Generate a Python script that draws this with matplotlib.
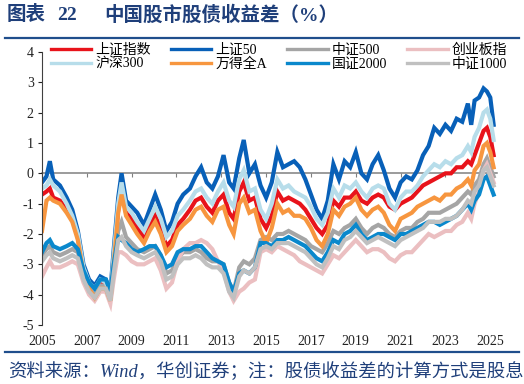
import matplotlib
matplotlib.use("Agg")
import matplotlib.pyplot as plt
from matplotlib.lines import Line2D

plt.rcParams['font.family'] = ['Liberation Serif', 'Noto Sans CJK SC', 'DejaVu Sans']
plt.rcParams['axes.unicode_minus'] = False

# time in decimal years
t = [2005.0, 2005.2, 2005.35, 2005.5, 2005.8, 2006.1, 2006.35, 2006.6, 2006.85, 2007.1,
     2007.35, 2007.6, 2007.85, 2008.05, 2008.2, 2008.4, 2008.55, 2008.75, 2009.0, 2009.25,
     2009.55, 2009.8, 2010.05, 2010.3, 2010.55, 2010.8, 2011.05, 2011.3, 2011.6, 2011.85,
     2012.1, 2012.35, 2012.6, 2012.85, 2013.1, 2013.35, 2013.55, 2013.8, 2014.0, 2014.25,
     2014.5, 2014.75, 2015.0, 2015.25, 2015.5, 2015.75, 2016.0, 2016.25, 2016.5, 2016.75,
     2017.0, 2017.25, 2017.5, 2017.75, 2018.0, 2018.25, 2018.5, 2018.75, 2019.0, 2019.25,
     2019.5, 2019.75, 2020.0, 2020.25, 2020.5, 2020.75, 2021.0, 2021.25, 2021.5, 2021.75,
     2022.0, 2022.25, 2022.5, 2022.75, 2023.0, 2023.25, 2023.5, 2023.75, 2024.0, 2024.15,
     2024.3, 2024.5, 2024.7, 2024.85, 2025.0, 2025.15]

sz50 = [-0.3, -0.1, 0.4, -0.2, -0.4, -0.8, -1.2, -1.9, -3.0, -3.5,
        -3.7, -3.4, -3.5, -3.9, -2.5, -0.8, 0.0, -0.9, -1.1, -1.3,
        -1.7, -1.2, -0.7, -1.2, -1.9, -1.6, -1.0, -0.7, -0.5, -0.1,
        0.2, -0.3, -0.5, -0.1, 0.6, -0.3, -0.5, 0.5, 1.1, 0.0,
        0.3, -0.4, -0.8, -0.3, 0.7, 0.2, 0.3, 0.4, 0.2, -0.2,
        -0.7, -1.2, -1.5, -0.9, 0.3, -0.2, 0.4, 0.2, 0.7, 0.0,
        -0.2, 0.3, 0.6, 0.1, -0.5, -0.8, -0.3, -0.1, -0.2, 0.1,
        0.6, 0.9, 1.5, 1.3, 1.6, 1.4, 1.8, 1.7, 2.3, 1.6,
        2.4, 2.5, 2.8, 2.7, 2.5, 1.6]
hs300 = [-0.5, -0.4, -0.2, -0.4, -0.6, -1.0, -1.4, -2.0, -3.1, -3.6,
         -3.8, -3.5, -3.6, -4.0, -2.7, -1.0, -0.3, -1.1, -1.3, -1.6,
         -1.9, -1.5, -1.1, -1.5, -2.1, -1.9, -1.4, -1.2, -0.9, -0.6,
         -0.5, -0.8, -1.0, -0.6, -0.3, -0.9, -1.1, -0.2, 0.1, -0.6,
         -0.5, -1.2, -1.5, -1.0, -0.2, -0.5, -0.4, -0.6, -0.7, -0.8,
         -1.1, -1.5, -1.7, -1.3, -0.5, -0.8, -0.4, -0.5, -0.3, -0.6,
         -0.8, -0.5, -0.4, -0.5, -1.0, -1.2, -0.8, -0.6, -0.6, -0.4,
         -0.1, 0.1, 0.3, 0.2, 0.4, 0.3, 0.5, 0.6, 0.9, 0.7,
         1.2, 1.5, 2.0, 2.1, 1.8, 1.1]
szzs = [-0.7, -0.6, -0.5, -0.8, -0.9, -1.2, -1.5, -2.1, -3.2, -3.7,
        -3.9, -3.6, -3.7, -4.1, -2.8, -1.2, -0.5, -1.3, -1.5, -1.8,
        -2.1, -1.7, -1.4, -1.8, -2.4, -2.2, -1.7, -1.5, -1.2, -0.9,
        -0.8, -1.1, -1.3, -0.9, -0.7, -1.3, -1.5, -0.6, -0.3, -0.9,
        -0.8, -1.5, -1.8, -1.4, -0.6, -0.9, -0.8, -0.9, -1.0, -1.2,
        -1.5, -1.8, -2.0, -1.7, -0.9, -1.1, -0.8, -0.8, -0.6, -0.9,
        -1.0, -0.8, -0.7, -0.8, -1.1, -1.2, -1.0, -0.9, -0.8, -0.6,
        -0.4, -0.3, -0.2, -0.1, 0.0, 0.0, 0.2, 0.2, 0.4, 0.3,
        0.6, 1.0, 1.4, 1.5, 1.2, 0.6]
wdqa = [-1.9, -0.9, -0.8, -0.9, -1.0, -1.3, -1.6, -2.2, -3.3, -3.8,
        -4.1, -3.8, -3.8, -4.2, -3.0, -1.3, -0.7, -1.4, -1.7, -2.0,
        -2.3, -1.9, -1.6, -2.0, -2.6, -2.4, -1.9, -1.7, -1.5, -1.2,
        -1.1, -1.4, -1.6, -1.2, -1.1, -1.7, -2.0, -1.0, -0.8, -1.3,
        -1.2, -1.9, -2.3, -1.8, -1.0, -1.3, -1.2, -1.4, -1.4, -1.5,
        -1.8, -2.2, -2.4, -2.0, -1.2, -1.4, -1.1, -1.0, -0.8, -1.2,
        -1.4, -1.2, -1.1, -1.3, -1.7, -1.9, -1.5, -1.4, -1.3, -1.1,
        -1.0, -0.9, -0.8, -0.9, -0.7, -0.7, -0.5, -0.4, -0.2, -0.4,
        0.1, 0.3, 0.9, 1.0, 0.7, 0.2]
zz500 = [-2.7, -2.5, -2.4, -2.6, -2.7, -2.6, -2.5, -2.6, -3.3, -3.8,
         -4.0, -3.7, -3.7, -4.1, -3.0, -1.9, -1.6, -2.1, -2.3, -2.5,
         -2.6, -2.5, -2.4, -2.7, -3.3, -3.2, -2.8, -2.6, -2.6, -2.5,
         -2.6, -2.8, -2.9, -2.9, -3.0, -3.6, -3.9, -3.1, -2.9, -3.0,
         -2.8, -2.2, -2.1, -2.2, -2.0, -2.0, -1.9, -2.0, -2.1, -2.2,
         -2.4, -2.5, -2.6, -2.3, -1.9, -2.0, -1.8, -1.7, -1.5, -1.8,
         -2.0, -1.8, -1.7, -1.8, -2.0, -2.1, -1.9, -1.8, -1.8, -1.6,
         -1.5, -1.3, -1.3, -1.3, -1.2, -1.1, -1.0, -0.8, -0.6, -0.7,
         -0.4, -0.2, 0.3, 0.5, 0.2, -0.1]
cybz = [-3.4, -3.1, -2.9, -3.1, -3.1, -3.0, -2.9, -3.0, -3.6, -4.0,
        -4.2, -3.9, -3.9, -4.3, -3.5, -2.6, -2.6, -2.7, -2.9, -3.0,
        -3.0, -2.9, -2.8, -3.2, -3.8, -3.6, -2.9, -2.5, -2.3, -2.3,
        -2.2, -2.3, -2.5, -2.9, -3.2, -3.9, -4.2, -3.9, -3.8, -3.6,
        -3.5, -2.6, -2.5, -2.6, -2.4, -2.5, -2.6, -2.7, -2.9, -3.0,
        -3.1, -3.2, -3.3, -3.0, -2.7, -2.8, -2.6, -2.4, -2.2, -2.4,
        -2.6, -2.5, -2.5, -2.6, -2.8, -2.9, -2.7, -2.6, -2.6, -2.4,
        -2.2, -2.0, -2.1, -2.0, -1.9, -1.9, -1.7, -1.6, -1.3, -1.5,
        -1.0, -0.6, 0.1, 0.3, 0.0, -0.3]
gz2000 = [-2.6, -2.3, -2.2, -2.4, -2.5, -2.4, -2.3, -2.5, -3.2, -3.6,
          -3.8, -3.5, -3.5, -3.9, -3.0, -2.1, -2.2, -2.3, -2.5, -2.6,
          -2.5, -2.4, -2.4, -2.7, -3.1, -3.0, -2.6, -2.5, -2.5, -2.4,
          -2.4, -2.6, -2.8, -2.9, -3.0, -3.6, -3.9, -3.3, -3.2, -3.3,
          -3.1, -2.3, -2.3, -2.4, -2.2, -2.2, -2.1, -2.2, -2.3, -2.4,
          -2.6, -2.8, -2.9, -2.6, -2.2, -2.3, -2.0, -1.9, -1.7, -2.0,
          -2.2, -2.1, -2.0, -2.0, -2.1, -2.2, -2.0, -2.0, -1.9, -1.8,
          -1.7, -1.6, -1.6, -1.7, -1.6, -1.5, -1.4, -1.2, -1.0, -1.2,
          -0.9, -0.7, -0.2, -0.1, -0.4, -0.7]
zz1000 = [-2.9, -2.7, -2.6, -2.8, -2.9, -2.8, -2.7, -2.8, -3.5, -3.9,
          -4.1, -3.8, -3.8, -4.2, -3.3, -2.2, -2.1, -2.4, -2.6, -2.7,
          -2.8, -2.7, -2.6, -2.9, -3.5, -3.4, -3.0, -2.8, -2.8, -2.7,
          -2.8, -3.0, -3.1, -3.1, -3.3, -3.9, -4.1, -3.4, -3.2, -3.3,
          -3.1, -2.5, -2.4, -2.5, -2.3, -2.3, -2.3, -2.4, -2.5, -2.6,
          -2.8, -3.0, -3.1, -2.8, -2.4, -2.5, -2.2, -2.1, -1.9, -2.1,
          -2.3, -2.2, -2.1, -2.2, -2.3, -2.4, -2.2, -2.1, -2.0, -1.9,
          -1.8, -1.6, -1.6, -1.6, -1.5, -1.5, -1.4, -1.2, -0.9, -1.0,
          -0.6, -0.4, 0.1, 0.2, -0.1, -0.4]

names = ['上证指数', '上证50', '中证500', '创业板指', '沪深300', '万得全A', '国证2000', '中证1000']
series = [szzs, sz50, zz500, cybz, hs300, wdqa, gz2000, zz1000]
colors = ['#E8131B', '#0860B8', '#A5A5A5', '#EBBFC1', '#B7DDEA', '#F7963F', '#0A88CC', '#C0C0C0']

years = list(range(2005, 2026, 2))
navy = '#1F3F7A'

fig = plt.figure(figsize=(5.24, 3.84), dpi=100)
ax = fig.add_axes([42 / 524, 1 - 325 / 384, (497 - 42) / 524, (325 - 52) / 384])

handles = []
for name, vals, c in zip(names, series, colors):
    h, = ax.plot(t, vals, color=c, lw=3.0, solid_joinstyle='miter', label=name)
    handles.append(h)

ax.set_xlim(2005, 2025.3)
ax.set_ylim(-5, 4)
ax.set_yticks(range(-5, 5))
ax.tick_params(axis='y', length=3, direction='out', labelsize=10, colors='#222222', pad=3)
ax.spines['left'].set_color('#404040')
ax.spines['top'].set_visible(False)
ax.spines['right'].set_visible(False)
ax.spines['bottom'].set_position(('data', 0))
ax.spines['bottom'].set_color('#808080')
ax.spines['bottom'].set_linewidth(1.1)
ax.spines['bottom'].set_zorder(1)
ax.set_xticks(years)
ax.tick_params(axis='x', length=3, direction='out', color='#808080', labelbottom=False)

sec = ax.secondary_xaxis('bottom')
sec.set_xticks(years, [str(y) for y in years])
sec.tick_params(length=0, pad=7, labelsize=10, colors='#222222')
sec.spines['bottom'].set_visible(False)

# legend laid out row by row like the original
order = [0, 4, 1, 5, 2, 6, 3, 7]
leg = fig.legend([handles[i] for i in order], [names[i] for i in order],
                 loc='upper left', bbox_to_anchor=(51 / 524, 1 - 44 / 384), ncol=4,
                 frameon=False, fontsize=10, handlelength=2.9, handletextpad=0.3,
                 columnspacing=1.45, labelspacing=0.05, borderpad=0, borderaxespad=0)
for ln in leg.get_lines():
    ln.set_linewidth(2.4)

fig.text(7 / 524, 1 - 15 / 384, '图表', fontsize=14, fontweight='bold', color=navy,
         va='center', ha='left')
fig.text(57 / 524, 1 - 15 / 384, '22', fontsize=14, fontweight='bold', color=navy,
         va='center', ha='left')
fig.text(104 / 524, 1 - 15 / 384, '中国股市股债收益差（%）', fontsize=14, fontweight='bold',
         color=navy, va='center', ha='left')
fig.add_artist(Line2D([5 / 524, 519 / 524], [1 - 38 / 384] * 2, transform=fig.transFigure,
                      color='#1F4E8C', lw=1.6))
fig.add_artist(Line2D([5 / 524, 519 / 524], [1 - 352 / 384] * 2, transform=fig.transFigure,
                      color='#1F4E8C', lw=1.6))
fig.text(8 / 524, 1 - 372 / 384, '资料来源：Wind，华创证券；注：股债收益差的计算方式是股息',
         fontsize=13.2, style='italic', color=navy, va='center', ha='left')

fig.savefig('out.png', dpi=100)
